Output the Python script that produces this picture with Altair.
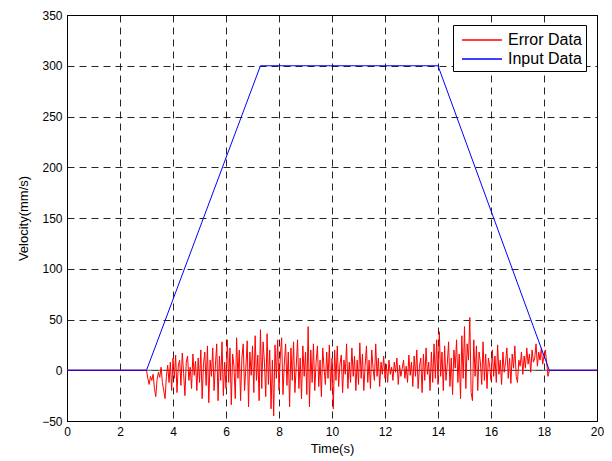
import altair as alt
import pandas as pd

# ---- data ----
input_t = [0.0, 3.0, 7.3, 14.0, 18.2, 20.0]
input_v = [0, 0, 300, 300, 0, 0]

err_start = 3.0
err_dt = 0.05
err_v = [
    0, -8, -14, -6, -10, -4, -18, -26, -9, -2, -7, 3, -12, -20, -28, -6, 5, -12, 8, -20,
    12, -8, 15, -22, 5, 10, -15, 17, -3, -25, 8, 14, -10, 3, -18, 16, -5, 9, -20, 12,
    -12, 20, -28, 6, 18, -15, 24, -32, 10, -6, 22, -20, 5, 26, -30, 14, -10, 28, -25, 8,
    -18, 30, -12, 22, -34, 16, 4, -28, 32, -8, 20, -30, 12, 26, -20, 3, 29, -36, 18, -5,
    24, -22, 34, -10, 15, -30, 40, -18, 28, 8, -26, 36, -14, 20, -38, 10, -45, 25, -8, 30,
    -20, 14, 32, -24, 6, 26, -15, 18, -36, 22, -10, 28, -22, 4, 30, -18, 12, -28, 24, -6,
    18, -24, 43, -36, 20, -12, 26, -20, 8, 24, -16, 10, -26, 22, 2, -14, 18, -8, 25, -20,
    12, -38, 20, -10, 24, -16, 6, 15, -22, 10, -4, 26, -18, 8, -12, 22, -6, 14, -20, 10,
    -14, 27, -8, 16, -20, 5, 24, -12, 10, -18, 20, 2, -10, 26, -6, 12, -16, 8, -4, 14,
    -8, 6, -12, 10, -4, 3, -10, 8, -2, 12, -14, 5, -6, 2, 10, -8, 4, -12, 15, -5,
    8, -16, 14, -6, 20, -18, 4, 12, -22, 16, -10, 22, -4, 8, -20, 18, -12, 26, -8, 30,
    -14, 38, -6, 18, -20, 24, -10, 6, 28, -16, 12, -24, 20, 2, 30, -12, 16, -28, 34, -8,
    43, -18, 26, 10, 52, -22, -30, 30, -6, 24, -20, 18, 8, -14, 28, -10, 16, -18, 12, 4,
    -10, 20, -6, 14, -12, 25, -4, 10, -14, 18, -2, 8, 22, -8, 12, -13, 16, 2, 24, -6,
    -12, 10, 4, 18, -4, 14, 2, 22, 6, 16, -2, 20, 8, 12, 26, 4, 18, 10, 22, 6,
    14, 20, 8, -6, 0,
]

x_ticks = [0, 2, 4, 6, 8, 10, 12, 14, 16, 18, 20]
y_ticks = [-50, 0, 50, 100, 150, 200, 250, 300, 350]
series_names = ["Error Data", "Input Data"]
series_colors = ["#ff0000", "#0000ff"]

# ---- tables ----
err_t = [0.0] + [round(err_start + err_dt * i, 2) for i in range(len(err_v))] + [20.0]
err_vals = [0] + err_v + [0]
df_err = pd.DataFrame({"t": err_t, "v": err_vals, "series": series_names[0]})
df_in = pd.DataFrame({"t": input_t, "v": input_v, "series": series_names[1]})
df_lines = pd.concat([df_err, df_in], ignore_index=True)
df_lines["i"] = range(len(df_lines))
df_zero = pd.DataFrame({"t": [0.0, 20.0], "v": [0, 0]})

font = "Liberation Sans"

xs = alt.Scale(domain=[0, 20], nice=False)
ys = alt.Scale(domain=[-50, 350], nice=False)
color = alt.Color(
    "series:N",
    scale=alt.Scale(domain=series_names, range=series_colors),
    legend=alt.Legend(
        title=None,
        orient="none",
        legendX=386,
        legendY=10,
        symbolType="M-2,0L2,0",
        symbolSize=400,
        symbolStrokeWidth=1.4,
        symbolOffset=14,
        labelOffset=15,
        labelFont=font,
        labelFontSize=16,
        labelColor="black",
        strokeColor="black",
        fillColor="white",
        padding=4,
        rowPadding=0,
        cornerRadius=0,
    ),
)

x_enc = alt.X(
    "t:Q", scale=xs, title="Time(s)",
    axis=alt.Axis(values=x_ticks, grid=True, gridDash=[7, 5], gridColor="black",
                  gridOpacity=0.85, ticks=False, labelFlush=False,
                  labelPadding=5, titlePadding=5),
)
y_enc = alt.Y(
    "v:Q", scale=ys, title="Velocity(mm/s)",
    axis=alt.Axis(values=y_ticks, grid=True, gridDash=[7, 5], gridColor="black",
                  gridOpacity=0.85, ticks=False, labelFlush=False,
                  labelPadding=5, titlePadding=11),
)

zero = alt.Chart(df_zero).mark_line(color="#555555", strokeWidth=1).encode(
    x=alt.X("t:Q", scale=xs), y=alt.Y("v:Q", scale=ys)
)
lines = alt.Chart(df_lines).mark_line(strokeWidth=1).encode(
    x=x_enc, y=y_enc, color=color, order="i:Q"
)

chart = (
    alt.layer(zero, lines)
    .properties(
        width=530,
        height=406,
        autosize=alt.AutoSizeParams(type="none"),
        padding={"left": 59, "top": 7, "right": 7, "bottom": 40},
        background="white",
    )
    .configure_view(stroke="black", strokeWidth=1)
    .configure_axis(
        labelFont=font, labelFontSize=12, labelColor="black",
        titleFont=font, titleFontSize=13, titleFontWeight="normal", titleColor="black",
        domainColor="black",
    )
)

chart.save("out.html", embed_options={"renderer": "svg", "actions": False})
